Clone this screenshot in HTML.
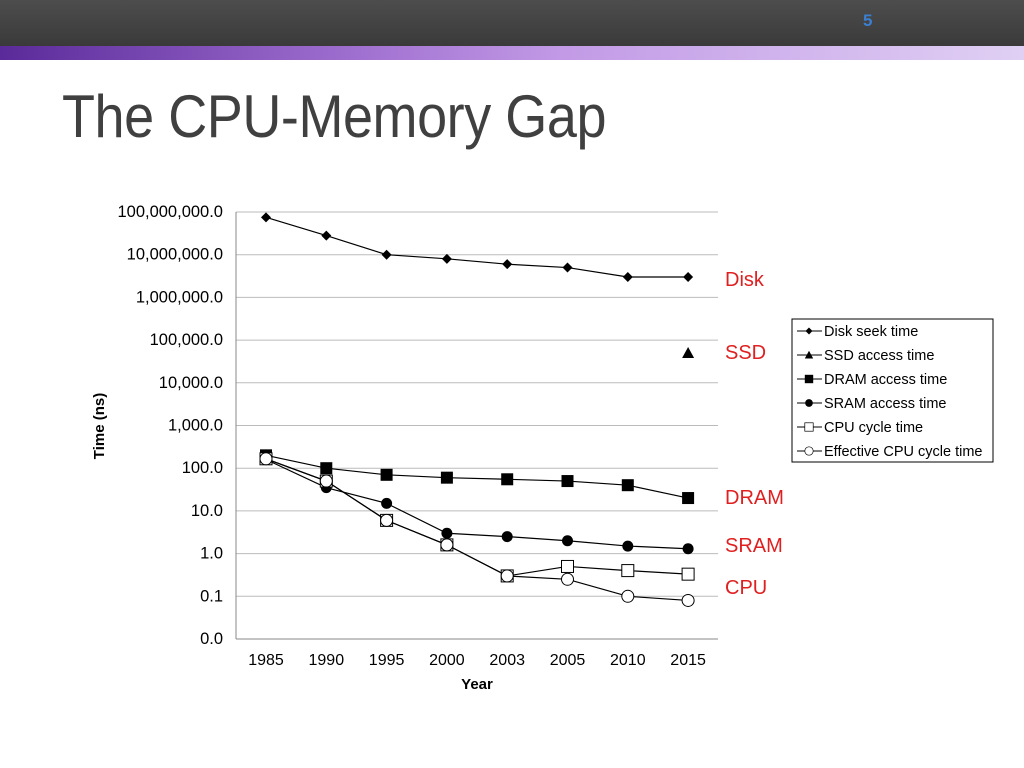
<!DOCTYPE html>
<html><head><meta charset="utf-8"><style>
body{margin:0;width:1024px;height:768px;overflow:hidden;background:#fff;font-family:"Liberation Sans",sans-serif;position:relative}
#hdr{position:absolute;left:0;top:0;width:1024px;height:46px;background:linear-gradient(180deg,#4d4d4d,#3a3a3a)}
#stripe{position:absolute;left:0;top:46px;width:1024px;height:14px;background:linear-gradient(90deg,#5a2a9a,#a070d0 35%,#c29ae6 55%,#e0d0f4)}
#num{position:absolute;left:863px;top:11px;color:#3b7fd0;font-size:17px;font-weight:bold}
#title{position:absolute;left:62px;top:82px;font-size:60px;color:#404040;letter-spacing:-0.5px;transform:scaleX(0.9);transform-origin:0 0;white-space:nowrap}
</style></head><body>
<div id="hdr"></div>
<div id="stripe"></div>
<div id="num">5</div>
<div id="title">The CPU-Memory Gap</div>
<svg id="chart" width="1024" height="768" style="position:absolute;left:0;top:0"></svg>
<script>
const years=["1985","1990","1995","2000","2003","2005","2010","2015"];
const tickLabels=["0.0","0.1","1.0","10.0","100.0","1,000.0","10,000.0","100,000.0","1,000,000.0","10,000,000.0","100,000,000.0"];
const disk=[75000000,28000000,10000000,8000000,6000000,5000000,3000000,3000000];
const ssd=[null,null,null,null,null,null,null,50000];
const dram=[200,100,70,60,55,50,40,20];
const sram=[160,35,15,3,2.5,2,1.5,1.3];
const cpu=[166,50,6,1.6,0.3,0.5,0.4,0.33];
const effcpu=[166,50,6,1.6,0.3,0.25,0.1,0.08];
const legendLabels=["Disk seek time","SSD access time","DRAM access time","SRAM access time","CPU cycle time","Effective CPU cycle time"];
const ns="http://www.w3.org/2000/svg",svg=document.getElementById('chart');
const X0=236,X1=718,Y0=639,DEC=42.7;
const x=i=>266+i*60.3;
const y=v=>Y0-(Math.log10(v)+2)*DEC;
function mk(t,a,p){const e=document.createElementNS(ns,t);for(const k in a)e.setAttribute(k,a[k]);(p||svg).appendChild(e);return e;}
tickLabels.forEach((l,i)=>{const yy=Y0-i*DEC;
 const g=mk('line',{x1:X0,x2:X1,y1:yy,y2:yy,stroke:i==0?'#888':'#bbb','stroke-width':1});
 
 const t=mk('text',{x:223,y:yy+5,'text-anchor':'end','font-size':16.5,fill:'#000'});t.textContent=l;
 });
mk('line',{x1:X0,x2:X0,y1:212,y2:Y0,stroke:'#888'});
years.forEach((l,i)=>{const t=mk('text',{x:x(i),y:665,'text-anchor':'middle','font-size':16});t.textContent=l;
 });
let t=mk('text',{x:477,y:689,'text-anchor':'middle','font-size':15,'font-weight':'bold'});t.textContent='Year';

t=mk('text',{x:104,y:426,'text-anchor':'middle','font-size':15,'font-weight':'bold',transform:'rotate(-90 104 426)'});t.textContent='Time (ns)';

function marker(type,cx,cy,p){
 if(type=='diamond')return mk('polygon',{points:`${cx},${cy-5} ${cx+5},${cy} ${cx},${cy+5} ${cx-5},${cy}`,fill:'#000'},p);
 if(type=='tri')return mk('polygon',{points:`${cx},${cy-6} ${cx+6},${cy+5} ${cx-6},${cy+5}`,fill:'#000'},p);
 if(type=='sq')return mk('rect',{x:cx-6,y:cy-6,width:12,height:12,fill:'#000'},p);
 if(type=='dot')return mk('circle',{cx,cy,r:5.5,fill:'#000'},p);
 if(type=='osq')return mk('rect',{x:cx-6,y:cy-6,width:12,height:12,fill:'#fff',stroke:'#000'},p);
 return mk('circle',{cx,cy,r:6,fill:'#fff',stroke:'#000'},p);
}
const series=[[disk,'diamond','disk'],[ssd,'tri','ssd'],[dram,'sq','dram'],[sram,'dot','sram'],[cpu,'osq','cpu'],[effcpu,'oc','eff-cpu']];
series.forEach(([d,m,n])=>{const g=mk('g',{});
 const pts=d.map((v,i)=>v==null?null:[x(i),y(v)]).filter(p=>p);
 if(pts.length>1)mk('polyline',{points:pts.map(p=>p.join(',')).join(' '),fill:'none',stroke:'#000','stroke-width':1.2},g);
 pts.forEach(p=>{const e=marker(m,p[0],p[1],g);});});
[['Disk',280],['SSD',353],['DRAM',498],['SRAM',546],['CPU',588]].forEach(([l,yy])=>{const t=mk('text',{x:725,y:yy+6,'font-size':20,fill:'#e02020'});t.textContent=l;
 });
const lg=mk('g',{});
mk('rect',{x:792,y:319,width:201,height:143,fill:'#fff',stroke:'#000'},lg);
legendLabels.forEach((l,i)=>{const yy=331+i*24;
 mk('line',{x1:797,x2:822,y1:yy,y2:yy,stroke:'#000'},lg);
 const e=marker(series[i][1],809,yy,lg);e.setAttribute('transform',`translate(${809*0.3},${yy*0.3}) scale(0.7)`);
 const t=mk('text',{x:824,y:yy+5,'font-size':14.5},lg);t.textContent=l;
 });
</script>
</body></html>
